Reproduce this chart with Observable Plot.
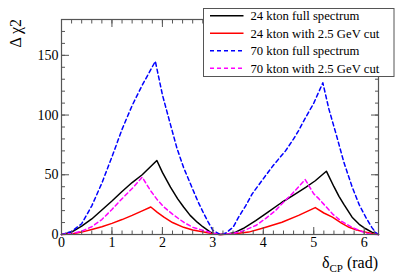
<!DOCTYPE html>
<html>
<head>
<meta charset="utf-8">
<script src="https://cdn.jsdelivr.net/npm/d3@7"></script>
<script src="https://cdn.jsdelivr.net/npm/@observablehq/plot@0.6"></script>
<style>
  html, body { margin: 0; padding: 0; background: white; }
</style>
</head>
<body>
<div id="chart"></div>
<script>
// ---- Data ----
const seriesNames = ["24 kton full spectrum", "24 kton with 2.5 GeV cut", "70 kton full spectrum", "70 kton with 2.5 GeV cut"];
const seriesColors = ["#000000", "#ff0000", "#0000ff", "#ff00ff"];
const seriesDash = [null, null, "4,3", "4,3"];

const x24full = [0, 0.2, 0.4, 0.6, 0.8, 1.0, 1.2, 1.4, 1.6, 1.89, 2.0, 2.16, 2.3, 2.42, 2.55, 2.69, 2.8, 2.95, 3.05, 3.1416,
                 3.3, 3.45, 3.6, 3.85, 4.1, 4.37, 4.6, 4.84, 5.03, 5.25, 5.4, 5.5, 5.6, 5.76, 5.9, 6.03, 6.15, 6.2832];
const y24full = [0, 2, 7, 13, 20.5, 28, 36, 43.5, 50, 62, 52, 39.6, 30, 23, 16, 10.3, 6.5, 2, 0.5, 0,
                 0.5, 2, 5, 11.7, 19, 27, 33, 39.5, 45, 53, 40, 32, 25, 14.5, 8.5, 4.8, 2, 0];

const x24cut = [0, 0.2, 0.4, 0.6, 0.8, 1.0, 1.2, 1.4, 1.6, 1.77, 1.9, 2.03, 2.2, 2.42, 2.6, 2.82, 3.0, 3.1416,
                3.4, 3.71, 4.0, 4.37, 4.7, 5.03, 5.2, 5.37, 5.55, 5.7, 5.85, 6.03, 6.15, 6.2832];
const y24cut = [0, 0.5, 2, 4.2, 6.5, 9.3, 12.5, 16, 19.8, 23, 18.5, 14.5, 10, 6, 3.8, 2, 0.7, 0,
                0.5, 2, 5.5, 10.3, 16, 22.5, 18, 14.5, 9.5, 6, 3.8, 2, 0.8, 0];

const x70full = [0, 0.2, 0.4, 0.6, 0.8, 1.0, 1.2, 1.4, 1.6, 1.86, 2.0, 2.16, 2.29, 2.42, 2.56, 2.7, 2.82, 2.9, 3.0, 3.1416,
                 3.25, 3.4, 3.51, 3.65, 3.78, 4.04, 4.2, 4.44, 4.6, 4.7, 4.8, 5.0, 5.18, 5.3, 5.45, 5.6, 5.76, 5.9, 6.03, 6.15, 6.22, 6.2832];
const y70full = [0, 2.5, 9, 24, 43, 65, 88, 108, 125, 145, 117, 92, 72, 56, 42, 28, 17.5, 11, 3.5, 0,
                 1, 6, 14.5, 24, 34, 49, 58, 70, 80, 87, 95, 110, 127, 105, 83, 60, 40, 25, 14.5, 6, 2, 0];

const x70cut = [0, 0.2, 0.4, 0.6, 0.8, 1.0, 1.2, 1.4, 1.6, 1.76, 1.9, 2.03, 2.2, 2.42, 2.6, 2.82, 3.0, 3.1416,
                3.4, 3.6, 3.85, 4.05, 4.24, 4.4, 4.57, 4.83, 5.0, 5.1, 5.37, 5.55, 5.76, 5.95, 6.09, 6.2832];
const y70cut = [0, 0.8, 2.8, 6.5, 12.5, 21, 30, 38.5, 48, 37, 29, 23, 17, 10.3, 6, 3.3, 1, 0,
                0.8, 3, 7.5, 13.5, 20, 27, 34, 46, 34, 30, 17.3, 11, 6, 2.5, 0.5, 0];

const seriesX = [x24full, x24cut, x70full, x70cut];
const seriesY = [y24full, y24cut, y70full, y70cut];

const xMajorTicks = [0, 1, 2, 3, 4, 5, 6];
const xMinorTicks = d3.range(0, 6.29, 0.2);
const yMajorTicks = [0, 50, 100, 150];
const yMinorTicks = d3.range(0, 181, 10);

const xTitle = ["δ", "CP", " (rad)"];
const yTitle = "Δ χ2";

// ---- Build tables ----
const tables = seriesNames.map((name, i) =>
  seriesX[i].map((x, j) => ({series: name, x, y: seriesY[i][j]})));

const axisColor = "#555";
const font = "Liberation Serif";

const lineMarks = tables.map((t, i) => Plot.line(t, {
  x: "x", y: "y", stroke: seriesColors[i], strokeWidth: 1.5,
  strokeDasharray: seriesDash[i] || undefined
}));

const plot = Plot.plot({
  width: 407,
  height: 276,
  marginLeft: 61,
  marginRight: 29,
  marginTop: 19,
  marginBottom: 42,
  x: {domain: [0, 2 * Math.PI]},
  y: {domain: [0, 180]},
  style: {fontFamily: font, fontSize: "14px", background: "white", color: "black"},
  marks: [
    ...lineMarks,
    Plot.frame({stroke: axisColor, strokeWidth: 1.2}),
    // inward ticks, bottom & top
    Plot.axisX({anchor: "bottom", ticks: xMinorTicks, tickSize: -3.5, fill: "none", label: null, stroke: axisColor}),
    Plot.axisX({anchor: "bottom", ticks: xMajorTicks, tickSize: -7, fill: "none", label: null, stroke: axisColor}),
    Plot.axisX({anchor: "top", ticks: xMinorTicks, tickSize: -3.5, fill: "none", label: null, stroke: axisColor}),
    Plot.axisX({anchor: "top", ticks: xMajorTicks, tickSize: -7, fill: "none", label: null, stroke: axisColor}),
    // inward ticks, left & right
    Plot.axisY({anchor: "left", ticks: yMinorTicks, tickSize: -4, fill: "none", label: null, stroke: axisColor}),
    Plot.axisY({anchor: "left", ticks: yMajorTicks, tickSize: -8, fill: "none", label: null, stroke: axisColor}),
    Plot.axisY({anchor: "right", ticks: yMinorTicks, tickSize: -4, fill: "none", label: null, stroke: axisColor}),
    Plot.axisY({anchor: "right", ticks: yMajorTicks, tickSize: -8, fill: "none", label: null, stroke: axisColor}),
    // labels
    Plot.axisX({anchor: "bottom", ticks: xMajorTicks, tickSize: 0, tickPadding: 3, label: null, fontSize: 14, fontFamily: font, fill: "black", tickFormat: d3.format("d")}),
    Plot.axisY({anchor: "left", ticks: yMajorTicks, tickSize: 0, tickPadding: 3, label: null, fontSize: 14, fontFamily: font, fill: "black", tickFormat: d3.format("d")})
  ]
});

document.getElementById("chart").appendChild(plot);

const svg = d3.select(plot.tagName.toLowerCase() === "svg" ? plot : plot.querySelector("svg"));

// x title with subscript
const xt = svg.append("text")
  .attr("x", 378).attr("y", 268)
  .attr("text-anchor", "end")
  .attr("font-family", font)
  .attr("font-size", 16)
  .attr("fill", "black");
xt.append("tspan").text(xTitle[0]);
xt.append("tspan").attr("font-size", 11).attr("dy", 4).text(xTitle[1]);
xt.append("tspan").attr("dy", -4).text(xTitle[2]);

// y title rotated
svg.append("text")
  .attr("transform", "translate(21,19) rotate(-90)")
  .attr("text-anchor", "end")
  .attr("font-family", font)
  .attr("font-size", 16)
  .attr("fill", "black")
  .text(yTitle);

// legend
const lg = svg.append("g");
lg.append("rect")
  .attr("x", 203.5).attr("y", 8.5).attr("width", 190.5).attr("height", 68)
  .attr("fill", "white").attr("stroke", axisColor).attr("stroke-width", 1);
const rowsY = [15.7, 33.2, 50.7, 68.2];
seriesNames.forEach((name, i) => {
  lg.append("line")
    .attr("x1", 210).attr("x2", 243.5)
    .attr("y1", rowsY[i]).attr("y2", rowsY[i])
    .attr("stroke", seriesColors[i]).attr("stroke-width", 1.5)
    .attr("stroke-dasharray", seriesDash[i]);
  lg.append("text")
    .attr("x", 250.5).attr("y", rowsY[i])
    .attr("dy", "0.35em")
    .attr("text-anchor", "start")
    .attr("font-family", font)
    .attr("font-size", 12.7)
    .attr("fill", "black")
    .text(name);
});
</script>
</body>
</html>
